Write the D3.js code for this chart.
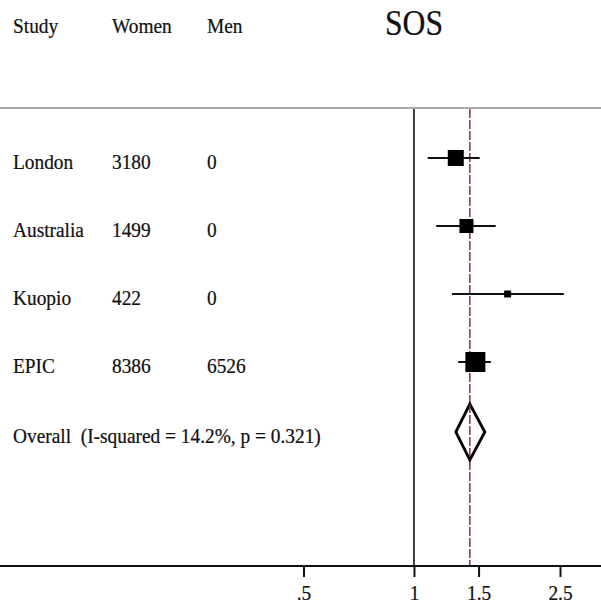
<!DOCTYPE html>
<html>
<head>
<meta charset="utf-8">
<script src="https://cdn.jsdelivr.net/npm/d3@7"></script>
<style>
  html, body { margin: 0; padding: 0; background: #fff; }
  svg { display: block; }
  text { font-family: "Liberation Serif", "Times New Roman", serif; fill: #111; white-space: pre; stroke: #111; stroke-width: 0.25px; }
</style>
</head>
<body>
<svg id="chart" width="601" height="607"></svg>
<script>
// Study-level estimates (relative risk, log scale) for the SOS meta-analysis
const studies = ["London", "Australia", "Kuopio", "EPIC"];
const women   = ["3180", "1499", "422", "8386"];
const men     = ["0", "0", "0", "6526"];
const estimate = [1.30, 1.39, 1.80, 1.47];
const ciLow    = [1.09, 1.15, 1.27, 1.32];
const ciHigh   = [1.51, 1.67, 2.56, 1.62];
const weight   = [28.4, 21.8, 5.4, 44.4];

// Pooled result
const overallLabel = "Overall  (I-squared = 14.2%, p = 0.321)";
const overallEst  = 1.42;
const overallLow  = 1.30;
const overallHigh = 1.56;

// Axis
const tickValues = [0.5, 1, 1.5, 2.5];
const tickLabels = [".5", "1", "1.5", "2.5"];
const headers = ["Study", "Women", "Men"];
const title = "SOS";

const W = 601, H = 607;
const svg = d3.select("#chart");

const topLineY = 108, axisY = 566;
const rowStart = 158, rowStep = 68;
const colX = [13, 112, 207];
const squeeze = 0.88;   // horizontally condensed serif lettering

const x = d3.scaleLog().domain([0.5, 2.5]).range([303.5, 560]);
const rowY = i => rowStart + i * rowStep;
const boxSize = d3.scaleSqrt().domain([0, d3.max(weight)]).range([0, 20]);

function label(g, tx, ty, str, size, anchor) {
  g.append("text")
    .attr("xml:space", "preserve")
    .attr("transform", `translate(${tx},${ty}) scale(${squeeze},1)`)
    .attr("font-size", size)
    .attr("text-anchor", anchor || "start")
    .text(str);
}

// Header
headers.forEach((h, i) => label(svg, colX[i], 33, h, 22));
label(svg, x(1), 35, title, 36, "middle");

// Grey separator below header
svg.append("line")
  .attr("x1", 0).attr("x2", W)
  .attr("y1", topLineY).attr("y2", topLineY)
  .attr("stroke", "#aaaaaa").attr("stroke-width", 2.2);

// Null line
svg.append("line")
  .attr("x1", x(1)).attr("x2", x(1))
  .attr("y1", topLineY + 1).attr("y2", axisY)
  .attr("stroke", "#111").attr("stroke-width", 1.6);

// Pooled-estimate reference line
svg.append("line")
  .attr("x1", x(overallEst)).attr("x2", x(overallEst))
  .attr("y1", topLineY + 1).attr("y2", axisY)
  .attr("stroke", "#8e1f2e").attr("stroke-width", 1.4)
  .attr("stroke-dasharray", "9,2");

// Study rows: labels
studies.forEach((s, i) => {
  const ty = rowY(i) + 11;
  label(svg, colX[0], ty, s, 22);
  label(svg, colX[1], ty, women[i], 22);
  label(svg, colX[2], ty, men[i], 22);
});

// Confidence intervals and weighted boxes
const rows = svg.append("g").selectAll("g")
  .data(studies.map((s, i) => ({ s, i, est: estimate[i], lo: ciLow[i], hi: ciHigh[i], w: weight[i] })))
  .join("g");

rows.append("line")
  .attr("x1", d => x(d.lo)).attr("x2", d => x(d.hi))
  .attr("y1", d => rowY(d.i)).attr("y2", d => rowY(d.i))
  .attr("stroke", "#111").attr("stroke-width", 2);

rows.append("rect")
  .attr("x", d => x(d.est) - boxSize(d.w) / 2)
  .attr("y", d => rowY(d.i) - boxSize(d.w) / 2)
  .attr("width", d => boxSize(d.w))
  .attr("height", d => boxSize(d.w))
  .attr("fill", "#000");

// Overall row
const oy = rowY(studies.length) + 2;
label(svg, colX[0], oy + 11, overallLabel, 22);
const halfH = 28;
svg.append("path")
  .attr("d", d3.line()([
    [x(overallLow), oy],
    [x(overallEst), oy - halfH],
    [x(overallHigh), oy],
    [x(overallEst), oy + halfH]
  ]) + "Z")
  .attr("fill", "#fff")
  .attr("stroke", "#000").attr("stroke-width", 2.8)
  .attr("stroke-linejoin", "miter");
// reference line continues through the diamond's interior
svg.append("line")
  .attr("x1", x(overallEst)).attr("x2", x(overallEst))
  .attr("y1", oy - halfH).attr("y2", oy + halfH)
  .attr("stroke", "#8e1f2e").attr("stroke-width", 1.4)
  .attr("stroke-dasharray", "9,2");

// Bottom axis
svg.append("line")
  .attr("x1", 0).attr("x2", W)
  .attr("y1", axisY).attr("y2", axisY)
  .attr("stroke", "#111").attr("stroke-width", 2);

const axis = d3.axisBottom(x)
  .tickValues(tickValues)
  .tickFormat((d, i) => tickLabels[i])
  .tickSize(11)
  .tickSizeOuter(0);

const ax = svg.append("g")
  .attr("transform", `translate(0,${axisY})`)
  .call(axis);
ax.select(".domain").remove();
ax.selectAll(".tick line").attr("stroke", "#111").attr("stroke-width", 2);
ax.selectAll(".tick text")
  .attr("font-family", "Liberation Serif, Times New Roman, serif")
  .attr("font-size", 22)
  .attr("fill", "#111")
  .attr("y", 0)
  .attr("dy", 0)
  .attr("transform", `translate(0,34) scale(${squeeze},1)`);
</script>
</body>
</html>
